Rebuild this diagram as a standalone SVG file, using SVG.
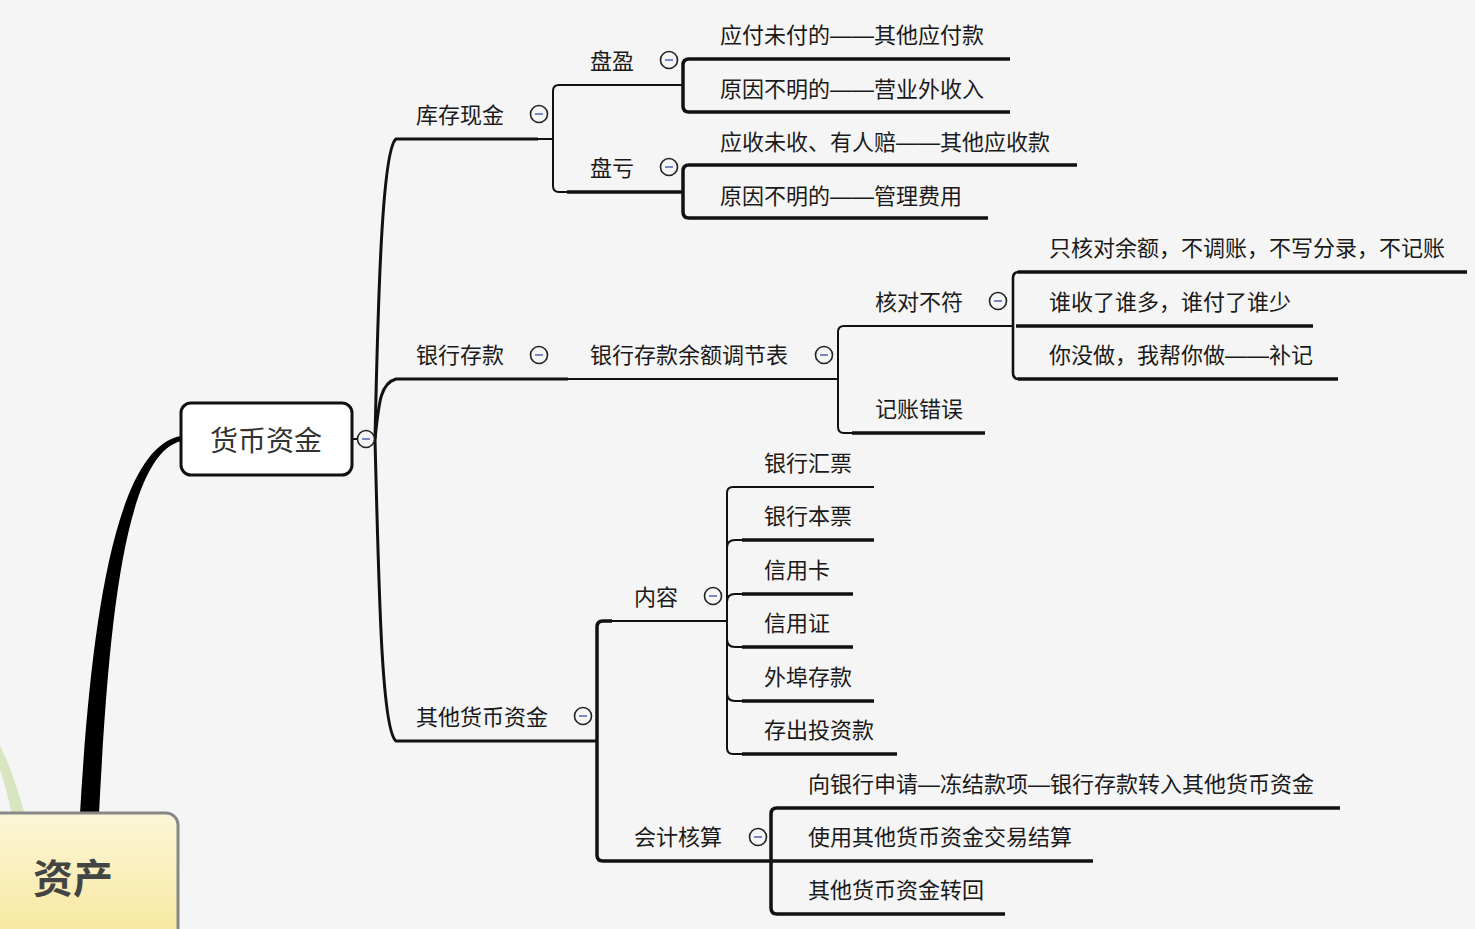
<svg xmlns="http://www.w3.org/2000/svg" width="1475" height="929" viewBox="0 0 1475 929">
<defs>
<linearGradient id="rootGrad" x1="0" y1="0" x2="0" y2="1">
<stop offset="0" stop-color="#fcf6d8"/>
<stop offset="1" stop-color="#f7e79c"/>
</linearGradient>
<g id="cb" class="cb"><circle cx="0" cy="0" r="8.5"/><line x1="-4" y1="0" x2="4" y2="0"/></g>
</defs>
<style>
.t{font-family:"Noto Sans CJK SC","Noto Sans",sans-serif;font-size:22px;fill:#1a1a1a}
.d{font-family:"Liberation Sans",sans-serif}
.thin{fill:none;stroke:#111;stroke-width:2}
.mid{fill:none;stroke:#111;stroke-width:2.6}
.thick{fill:none;stroke:#111;stroke-width:3.5}
.cb circle{fill:#f5f5f5;stroke:#222;stroke-width:1.6}
.cb line{stroke:#7c86c4;stroke-width:2}
</style>
<rect x="0" y="0" width="1475" height="929" fill="#f5f5f5"/>

<g id="connectors">
  <path d="M 0 746 C 10 765 18 790 25 815 L 12 815 C 8 796 4 781 0 770 Z" fill="#d7e5c0"/>
  <path d="M 80 814 C 90 640 112 448 181 436 L 181 441 C 122 456 108 640 99 814 Z" fill="#000"/>
  <path class="thin" d="M 352 439 L 358 439"/>
  <path class="thick" d="M 375 439 C 378 300 382 150 396 139 L 538 139" style="stroke-width:3"/>
  <path class="thin" d="M 537 139 L 553 139"/>
  <path class="thick" d="M 375 439 C 379 400 381 383 396 379 L 568 379" style="stroke-width:3"/>
  <path class="thin" d="M 567 379 L 838 379"/>
  <path class="thick" d="M 375 439 C 379 600 382 730 396 741 L 597 741" style="stroke-width:3"/>

  <path class="thin" d="M 683 85 L 559 85 Q 553 85 553 91 L 553 186 Q 553 192 559 192 L 568 192"/>
  <path class="thick" d="M 567 192 L 683 192"/>
  <path class="thick" d="M 1010 59 L 689 59 Q 683 59 683 65 L 683 106 Q 683 112 689 112 L 1010 112"/>
  <path class="thick" d="M 1077 165 L 689 165 Q 683 165 683 171 L 683 212 Q 683 218 689 218 L 988 218"/>

  <path class="thin" d="M 1013 326 L 844 326 Q 838 326 838 332 L 838 427 Q 838 433 844 433 L 853 433"/>
  <path class="thick" d="M 852 433 L 985 433"/>
  <path class="mid" d="M 1019 272 Q 1013 272 1013 278 L 1013 373 Q 1013 379 1019 379"/>
  <path class="thick" d="M 1018 272 L 1467 272"/>
  <path class="thick" d="M 1016 326 L 1313 326"/>
  <path class="thick" d="M 1018 379 L 1338 379"/>

  <path class="thick" d="M 612 621 L 603 621 Q 597 621 597 627 L 597 855 Q 597 861 603 861 L 771 861"/>
  <path class="thin" d="M 611 621 L 727 621"/>
  <path class="thin" d="M 874 487 L 733 487 Q 727 487 727 493 L 727 748 Q 727 754 733 754 L 743 754"/>
  <path class="thin" d="M 727 548 Q 727 540 735 540 L 743 540"/>
  <path class="thin" d="M 727 602 Q 727 594 735 594 L 743 594"/>
  <path class="thin" d="M 727 639 Q 727 647 735 647 L 743 647"/>
  <path class="thin" d="M 727 693 Q 727 701 735 701 L 743 701"/>
  <path class="thick" d="M 742 540 L 874 540"/>
  <path class="thick" d="M 742 594 L 853 594"/>
  <path class="thick" d="M 742 647 L 853 647"/>
  <path class="thick" d="M 742 701 L 874 701"/>
  <path class="thick" d="M 742 754 L 897 754"/>

  <path class="thick" d="M 1340 808 L 777 808 Q 771 808 771 814 L 771 908 Q 771 914 777 914 L 1005 914"/>
  <path class="thick" d="M 771 861 L 1093 861"/>
</g>

<g id="node-root">
  <rect x="-12" y="813" width="190" height="130" rx="12" fill="url(#rootGrad)" stroke="#888" stroke-width="3"/>
  <text x="33" y="893" style="font-family:'Noto Sans CJK SC',sans-serif;font-size:40px;font-weight:bold;fill:#444">资产</text>
</g>
<g id="node-hbzj">
  <rect x="181" y="403" width="171" height="72" rx="10" fill="#fff" stroke="#111" stroke-width="3"/>
  <text x="266" y="451" text-anchor="middle" style="font-family:'Noto Sans CJK SC',sans-serif;font-size:28px;fill:#333">货币资金</text>
  <use href="#cb" x="366" y="439"/>
</g>
<g id="node-kcxj"><text class="t" x="416" y="123">库存现金</text><use href="#cb" x="539" y="114"/></g>
<g id="node-yhck"><text class="t" x="416" y="363">银行存款</text><use href="#cb" x="539" y="355"/></g>
<g id="node-qthbzj"><text class="t" x="416" y="725">其他货币资金</text><use href="#cb" x="583" y="716"/></g>
<g id="node-py"><text class="t" x="590" y="69">盘盈</text><use href="#cb" x="669" y="60"/></g>
<g id="node-pk"><text class="t" x="590" y="176">盘亏</text><use href="#cb" x="669" y="167"/></g>
<g id="node-py1"><text class="t" x="720" y="43">应付未付的<tspan class="d">——</tspan>其他应付款</text></g>
<g id="node-py2"><text class="t" x="720" y="97">原因不明的<tspan class="d">——</tspan>营业外收入</text></g>
<g id="node-pk1"><text class="t" x="720" y="150">应收未收、有人赔<tspan class="d">——</tspan>其他应收款</text></g>
<g id="node-pk2"><text class="t" x="720" y="204">原因不明的<tspan class="d">——</tspan>管理费用</text></g>
<g id="node-tjb"><text class="t" x="590" y="363">银行存款余额调节表</text><use href="#cb" x="824" y="355"/></g>
<g id="node-hdbf"><text class="t" x="875" y="310">核对不符</text><use href="#cb" x="998" y="301"/></g>
<g id="node-jzcw"><text class="t" x="875" y="417">记账错误</text></g>
<g id="node-hd1"><text class="t" x="1049" y="256">只核对余额，不调账，不写分录，不记账</text></g>
<g id="node-hd2"><text class="t" x="1049" y="310">谁收了谁多，谁付了谁少</text></g>
<g id="node-hd3"><text class="t" x="1049" y="363">你没做，我帮你做<tspan class="d">——</tspan>补记</text></g>
<g id="node-nr"><text class="t" x="634" y="605">内容</text><use href="#cb" x="713" y="596"/></g>
<g id="node-kjhs"><text class="t" x="634" y="845">会计核算</text><use href="#cb" x="758" y="837"/></g>
<g id="node-nr1"><text class="t" x="764" y="471">银行汇票</text></g>
<g id="node-nr2"><text class="t" x="764" y="524">银行本票</text></g>
<g id="node-nr3"><text class="t" x="764" y="578">信用卡</text></g>
<g id="node-nr4"><text class="t" x="764" y="631">信用证</text></g>
<g id="node-nr5"><text class="t" x="764" y="685">外埠存款</text></g>
<g id="node-nr6"><text class="t" x="764" y="738">存出投资款</text></g>
<g id="node-hs1"><text class="t" x="808" y="792">向银行申请<tspan class="d">—</tspan>冻结款项<tspan class="d">—</tspan>银行存款转入其他货币资金</text></g>
<g id="node-hs2"><text class="t" x="808" y="845">使用其他货币资金交易结算</text></g>
<g id="node-hs3"><text class="t" x="808" y="898">其他货币资金转回</text></g>
</svg>
